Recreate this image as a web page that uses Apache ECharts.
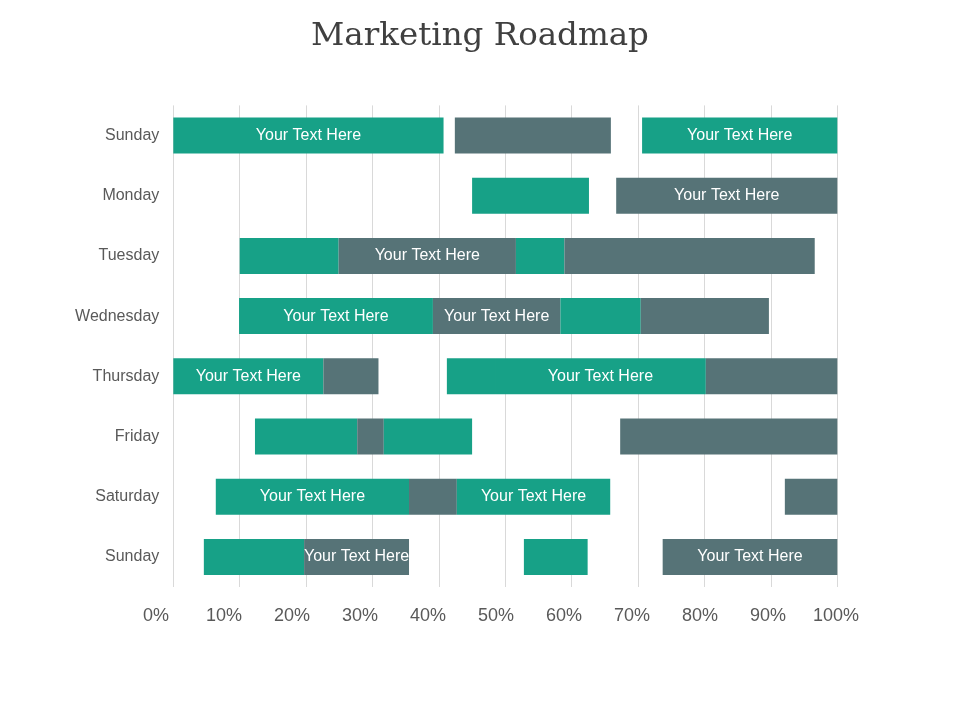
<!DOCTYPE html>
<html>
<head>
<meta charset="utf-8">
<title>Marketing Roadmap</title>
<script src="https://cdn.jsdelivr.net/npm/echarts@6/dist/echarts.min.js"></script>
<style>
    html, body { margin: 0; padding: 0; background: #fff; }
    #chartsmain { width: 960px; height: 720px; }
</style>
</head>
<body>
<div id="chartsmain"></div>

<script>
    // categories, top to bottom
    var days = ['Sunday', 'Monday', 'Tuesday', 'Wednesday', 'Thursday', 'Friday', 'Saturday', 'Sunday'];
    var barText = 'Your Text Here';

    // segments per row: [from %, to %, kind (T = teal, S = slate), labelled]
    var rowSunday1   = [[0, 40.7, 'T', 1], [42.4, 65.9, 'S', 0], [70.6, 100, 'T', 1]];
    var rowMonday    = [[45.0, 62.6, 'T', 0], [66.7, 100, 'S', 1]];
    var rowTuesday   = [[10.0, 24.9, 'T', 0], [24.9, 51.6, 'S', 1], [51.6, 58.9, 'T', 0], [58.9, 96.6, 'S', 0]];
    var rowWednesday = [[9.9, 39.1, 'T', 1], [39.1, 58.3, 'S', 1], [58.3, 70.4, 'T', 0], [70.4, 89.7, 'S', 0]];
    var rowThursday  = [[0, 22.6, 'T', 1], [22.6, 30.9, 'S', 0], [41.2, 48.45, 'T', 0], [48.45, 80.2, 'T', 1], [80.2, 100, 'S', 0]];
    var rowFriday    = [[12.3, 27.7, 'T', 0], [27.7, 31.7, 'S', 0], [31.7, 45.0, 'T', 0], [67.3, 100, 'S', 0]];
    var rowSaturday  = [[6.4, 35.5, 'T', 1], [35.5, 42.7, 'S', 0], [42.7, 65.8, 'T', 1], [92.1, 100, 'S', 0]];
    var rowSunday2   = [[4.6, 19.7, 'T', 0], [19.7, 35.5, 'S', 1], [52.8, 62.4, 'T', 0], [73.7, 100, 'S', 1]];

    var rows = [rowSunday1, rowMonday, rowTuesday, rowWednesday, rowThursday, rowFriday, rowSaturday, rowSunday2];
    var colors = { T: '#17a187', S: '#567377' };
    var font = "'Liberation Sans', Arial, sans-serif";

    // turn each row into stacked pieces, gaps are transparent
    var pieces = rows.map(function (row) {
        var out = [], prev = 0;
        row.forEach(function (s) {
            if (s[0] > prev) out.push({ value: s[0] - prev, color: 'transparent', label: false });
            out.push({ value: s[1] - s[0], color: colors[s[2]], label: !!s[3] });
            prev = s[1];
        });
        return out;
    });
    var maxPieces = Math.max.apply(null, pieces.map(function (p) { return p.length; }));

    var series = [];
    for (var k = 0; k < maxPieces; k++) {
        series.push({
            type: 'bar',
            stack: 'road',
            barWidth: 36,
            xAxisIndex: 0,
            yAxisIndex: 0,
            label: {
                position: 'inside',
                color: '#fff',
                fontSize: 16,
                fontFamily: font,
                formatter: barText
            },
            data: pieces.map(function (p) {
                var d = p[k];
                if (!d) return { value: 0, itemStyle: { color: 'transparent' }, label: { show: false } };
                return { value: d.value, itemStyle: { color: d.color }, label: { show: d.label } };
            })
        });
    }

    var roadmapchart = echarts.init(document.getElementById('chartsmain'));
    var option1 = {
        animation: false,
        title: {
            text: 'Marketing Roadmap',
            left: 'center',
            top: 15,
            textStyle: {
                fontFamily: "'DejaVu Serif', Georgia, serif",
                fontWeight: 'normal',
                fontSize: 32.5,
                color: '#404040'
            }
        },
        grid: [
            { left: 173.3, top: 105.4, width: 664, height: 481.6 },
            // separate grid only for the percent labels (they sit a bit off the gridlines)
            { left: 156, top: 105.4, width: 680, height: 481.6 }
        ],
        xAxis: [
            {
                type: 'value', gridIndex: 0, min: 0, max: 100, interval: 10,
                axisLine: { show: false }, axisTick: { show: false }, axisLabel: { show: false },
                splitLine: { show: true, lineStyle: { color: '#d9d9d9', width: 1 } }
            },
            {
                type: 'value', gridIndex: 1, min: 0, max: 100, interval: 10,
                axisLine: { show: false }, axisTick: { show: false }, splitLine: { show: false },
                axisLabel: { formatter: '{value}%', fontSize: 18, color: '#595959', fontFamily: font, margin: 20 }
            }
        ],
        yAxis: [
            {
                type: 'category', gridIndex: 0, data: days, inverse: true,
                axisLine: { show: false }, axisTick: { show: false }, splitLine: { show: false },
                axisLabel: { fontSize: 16, color: '#595959', fontFamily: font, margin: 14 }
            },
            { type: 'value', gridIndex: 1, min: 0, max: 1, show: false }
        ],
        series: series
    };
    roadmapchart.setOption(option1);
</script>
</body>
</html>
